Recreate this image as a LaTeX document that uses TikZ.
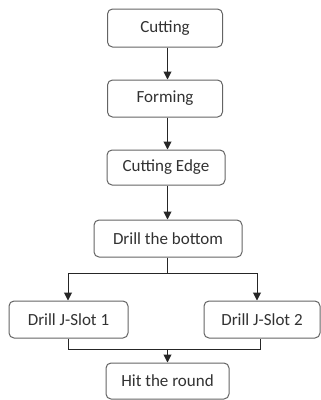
\documentclass[tikz,border=0pt]{standalone}
\usepackage{fontspec}
\setmainfont{Carlito}
\usetikzlibrary{arrows.meta}
\definecolor{boxline}{RGB}{100,100,100}
\definecolor{boxtext}{RGB}{50,50,50}
\begin{document}
\begin{tikzpicture}[x=1pt,y=-1pt,
  stepbox/.style={draw=boxline, line width=1pt, rounded corners=5pt, fill=white,
    text=boxtext, font=\fontsize{17}{19}\selectfont, inner sep=0pt,
    minimum height=37pt},
  flow/.style={line width=1pt, draw=black!85},
  arr/.style={flow, -{Triangle[length=8pt,width=8pt]}}]
\useasboundingbox (0,0) rectangle (321,400);

% main column
\node[stepbox, minimum width=115pt, minimum height=38pt] (cut)    at (165,28)    {Cutting};
\node[stepbox, minimum width=115pt] (form)   at (165,98.5)  {Forming};
\node[stepbox, minimum width=118pt, minimum height=35pt] (edge) at (166,167.5) {Cutting Edge};
\node[stepbox, minimum width=148pt] (bottom) at (168,238.5) {Drill the bottom};

% two parallel slots
\node[stepbox, minimum width=119pt] (j1) at (68.5,319.5) {Drill J-Slot 1};
\node[stepbox, minimum width=116pt] (j2) at (262,319.5)  {Drill J-Slot 2};

\node[stepbox, minimum width=123pt, minimum height=36pt] (hit) at (167.5,381) {Hit the round};

% connectors
\coordinate (split) at (167.5,273);
\coordinate (join)  at (167.5,349);
\coordinate (sl) at (68,273);
\coordinate (sr) at (257,273);
\coordinate (jl) at (68,349);
\coordinate (jr) at (260,349);

\draw[arr] (cut.south -| split) -- (form.north -| split);
\draw[arr] (form.south -| split) -- (edge.north -| split);
\draw[arr] (edge.south -| split) -- (bottom.north -| split);
\draw[flow] (bottom.south -| split) -- (split);
\draw[flow] (sl) -- (sr);
\draw[arr] (sl) -- (j1.north -| sl);
\draw[arr] (sr) -- (j2.north -| sr);
\draw[flow] (j1.south -| jl) -- (jl) -- (jr) -- (j2.south -| jr);
\draw[arr] (join) -- (hit.north -| join);
\end{tikzpicture}
\end{document}
